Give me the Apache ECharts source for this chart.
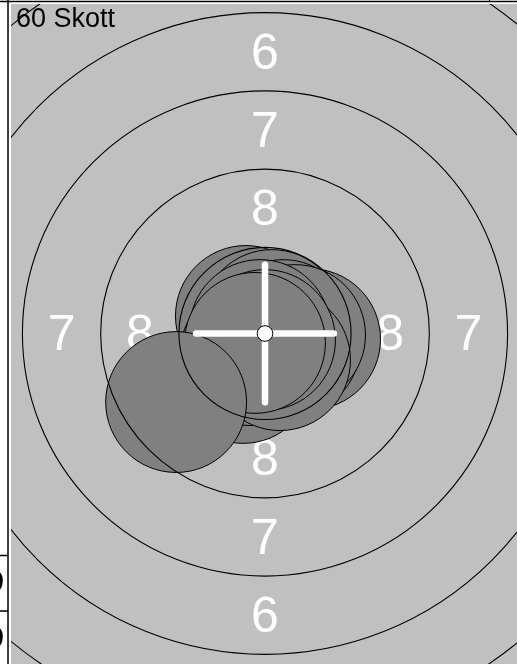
<!DOCTYPE html>
<html>
<head>
<meta charset="utf-8">
<title>60 Skott</title>
<script src="https://cdn.jsdelivr.net/npm/echarts@6/dist/echarts.min.js"></script>
<style>
  html, body { margin: 0; padding: 0; background: #ffffff; }
  #chart { width: 517px; height: 664px; }
</style>
</head>
<body>
<div id="chart"></div>
<script>
// Target geometry in millimetres (10 m air rifle target)
const ringRadii = [2.75, 5.25, 7.75, 10.25, 12.75, 15.25];
const tenRingRadius = 0.25;
const pelletRadius = 2.25;

// Ring numbers, placed half way between ring lines
const ringLabels = ['8', '7', '6'];
const ringLabelDist = [4.0, 6.5, 9.0];

// Shot positions (mm from centre, y up)
const shotX = [-0.70, -0.61, 0.22, 1.44, 0.58, 0.80, 0.96, 0.16, -0.48, 0.48, -0.16, 0.00, -0.32, -2.84];
const shotY = [-1.26, 0.56, 0.43, -0.18, 0.11, -0.37, -0.05, -0.59, -0.69, -0.85, 0.11, -0.21, -0.30, -2.19];

// Mean point of impact and cross arm length
const meanPoint = [0, 0];
const crossArm = 2.2;

// Visible window of the target (mm)
const xMin = -8.115, xMax = 8.051;
const yMin = -10.559, yMax = 10.527;

const shotCountText = '60 Skott';
const tableValues = ['0', '0'];

const chart = echarts.init(document.getElementById('chart'), null, { renderer: 'canvas' });

const FONT = '"Liberation Sans", Arial, sans-serif';

// Ring label items: four directions (up, down, left, right)
const labelItems = [];
ringLabels.forEach((t, i) => {
  const d = ringLabelDist[i];
  labelItems.push({ value: [0, d], t });
  labelItems.push({ value: [0, -d], t });
  labelItems.push({ value: [-d, 0], t });
  labelItems.push({ value: [d, 0], t });
});

const option = {
  animation: false,
  backgroundColor: '#ffffff',
  title: {
    text: shotCountText,
    left: 16,
    top: 6,
    padding: 0,
    textStyle: { fontFamily: FONT, fontSize: 27, fontWeight: 'normal', color: '#000000' },
    z: 10
  },
  grid: {
    left: 11, top: 4, right: 0, bottom: 0,
    show: true, backgroundColor: '#c0c0c0', borderWidth: 0
  },
  xAxis: { type: 'value', min: xMin, max: xMax, show: false },
  yAxis: { type: 'value', min: yMin, max: yMax, show: false },
  graphic: [
    // frame lines around the target panel
    { type: 'line', shape: { x1: 0, y1: 1.5, x2: 517, y2: 1.5 }, style: { stroke: '#000', lineWidth: 1.5 }, z: 20 },
    { type: 'line', shape: { x1: 8, y1: 0, x2: 8, y2: 664 }, style: { stroke: '#000', lineWidth: 1.5 }, z: 20 },
    { type: 'line', shape: { x1: 489.5, y1: 0, x2: 489.5, y2: 2 }, style: { stroke: '#000', lineWidth: 1 }, z: 20 },
    // score table edge
    { type: 'line', shape: { x1: 0, y1: 555.5, x2: 8, y2: 555.5 }, style: { stroke: '#000', lineWidth: 1.5 }, z: 20 },
    { type: 'line', shape: { x1: 0, y1: 611, x2: 8, y2: 611 }, style: { stroke: '#000', lineWidth: 1.5 }, z: 20 },
    { type: 'text', x: 4, y: 583, style: { text: tableValues[0], font: '30px ' + FONT, fill: '#000', align: 'right', verticalAlign: 'middle' }, z: 20 },
    { type: 'text', x: 4, y: 639, style: { text: tableValues[1], font: '30px ' + FONT, fill: '#000', align: 'right', verticalAlign: 'middle' }, z: 20 }
  ],
  series: [
    {
      // ring numbers
      type: 'custom',
      clip: true,
      z: 1,
      data: labelItems,
      renderItem(params, api) {
        const p = api.coord([api.value(0), api.value(1)]);
        return {
          type: 'text',
          x: p[0], y: p[1] + 3,
          style: {
            text: labelItems[params.dataIndex].t,
            font: '50px ' + FONT,
            fill: '#ffffff',
            align: 'center',
            verticalAlign: 'middle'
          }
        };
      }
    },
    {
      // shot holes
      type: 'custom',
      clip: true,
      z: 2,
      data: shotX.map((x, i) => [x, shotY[i]]),
      renderItem(params, api) {
        const c = api.coord([api.value(0), api.value(1)]);
        const r = api.size([pelletRadius, 0])[0];
        return {
          type: 'circle',
          shape: { cx: c[0], cy: c[1], r },
          style: { fill: '#808080', stroke: '#000000', lineWidth: 1 }
        };
      }
    },
    {
      // ring lines
      type: 'custom',
      clip: true,
      z: 3,
      data: ringRadii.map(r => [0, 0, r]),
      renderItem(params, api) {
        const c = api.coord([api.value(0), api.value(1)]);
        const r = api.size([api.value(2), 0])[0];
        return {
          type: 'circle',
          shape: { cx: c[0], cy: c[1], r },
          style: { fill: 'none', stroke: '#000000', lineWidth: 1.1 }
        };
      }
    },
    {
      // mean point of impact: cross with the ten ring
      type: 'custom',
      clip: true,
      z: 4,
      data: [meanPoint],
      renderItem(params, api) {
        const c = api.coord([api.value(0), api.value(1)]);
        const arm = api.size([crossArm, 0])[0];
        const r10 = api.size([tenRingRadius, 0])[0];
        const lineStyle = { stroke: '#ffffff', lineWidth: 6.5, lineCap: 'round' };
        return {
          type: 'group',
          children: [
            { type: 'line', shape: { x1: c[0] - arm, y1: c[1], x2: c[0] + arm, y2: c[1] }, style: lineStyle },
            { type: 'line', shape: { x1: c[0], y1: c[1] - arm, x2: c[0], y2: c[1] + arm }, style: lineStyle },
            { type: 'circle', shape: { cx: c[0], cy: c[1], r: r10 }, style: { fill: '#ffffff', stroke: '#000000', lineWidth: 1 } }
          ]
        };
      }
    }
  ]
};

chart.setOption(option);
</script>
</body>
</html>
